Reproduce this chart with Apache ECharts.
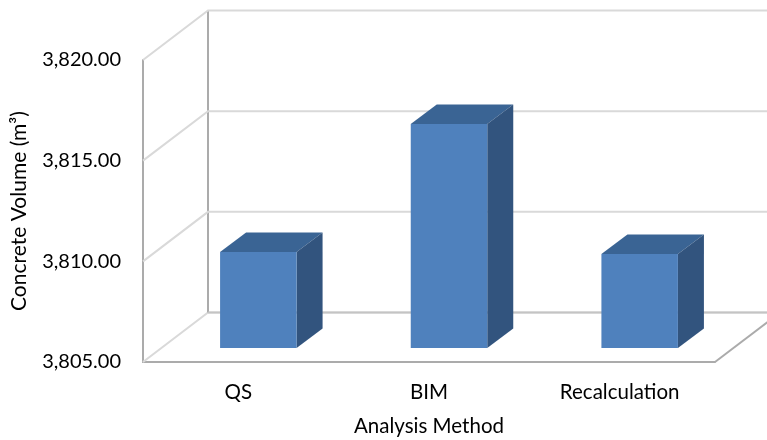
<!DOCTYPE html>
<html><head><meta charset="utf-8">
<style>html,body{margin:0;padding:0;background:#fff}#c{width:767px;height:440px}</style>
<script src="https://cdn.jsdelivr.net/npm/echarts@6/dist/echarts.min.js"></script>
</head><body><div id="c"></div>
<script>
const categories = ['QS', 'BIM', 'Recalculation'];
const volumes = [3809.77, 3816.13, 3809.67];
const yTicks = [3805, 3810, 3815, 3820];
const yMin = 3805, yMax = 3820, yStep = 5;

const wallDepth = [65, -49.5];
const barShift = [20, -14];
const barDepth = [26, -19.5];
const barW = 76.5;
const FF = 'Lato, Carlito, sans-serif';

const chart = echarts.init(document.getElementById('c'), null, {renderer: 'canvas'});
chart.setOption({
  animation: false,
  backgroundColor: '#fff',
  grid: {left: 143, right: 52, top: 60, bottom: 78, containLabel: false, outerBoundsMode: 'none'},
  xAxis: {
    type: 'category', data: categories,
    axisTick: {show: false},
    axisLine: {lineStyle: {color: '#ababab', width: 2}},
    axisLabel: {color: '#000', fontFamily: FF, fontSize: 20.5, margin: 20},
    name: 'Analysis Method', nameLocation: 'middle', nameGap: 54,
    nameTextStyle: {color: '#000', fontFamily: FF, fontSize: 20.5}
  },
  yAxis: {
    type: 'value', min: yMin, max: yMax, interval: yStep,
    axisLine: {show: true, lineStyle: {color: '#ababab', width: 2}},
    axisTick: {show: false},
    splitLine: {show: false},
    axisLabel: {color: '#000', fontFamily: FF, fontSize: 20, margin: 22, padding: [2, 0, 0, 0],
      formatter: v => v.toLocaleString('en-US', {minimumFractionDigits: 2, maximumFractionDigits: 2})},
    name: 'Concrete Volume (m³)', nameLocation: 'middle', nameGap: 113,
    nameTextStyle: {color: '#000', fontFamily: FF, fontSize: 21}
  },
  series: [
    {
      type: 'custom', z: 1, silent: true,
      data: yTicks.map(t => [0, t]),
      encode: {x: 0, y: 1},
      renderItem(params, api) {
        const cs = params.coordSys;
        const p = api.coord([0, api.value(1)]);
        const x0 = cs.x, x1 = cs.x + cs.width, y = p[1];
        const bx = x0 + wallDepth[0], by = y + wallDepth[1];
        const kids = [{
          type: 'polyline',
          shape: {points: [[x0, y], [bx, by], [x1 + wallDepth[0], by]]},
          style: {fill: null, stroke: '#d9d9d9', lineWidth: 2}
        }];
        if (params.dataIndex === 0) {
          kids.push({
            type: 'line',
            shape: {x1: bx, y1: by, x2: bx, y2: by - cs.height},
            style: {stroke: '#ababab', lineWidth: 2}
          }, {
            type: 'line',
            shape: {x1: x1, y1: y, x2: x1 + wallDepth[0], y2: by},
            style: {stroke: '#ababab', lineWidth: 2}
          }, {
            type: 'line',
            shape: {x1: bx, y1: by, x2: x1 + wallDepth[0], y2: by},
            style: {stroke: '#c4c4c4', lineWidth: 2}
          });
        }
        return {type: 'group', children: kids};
      }
    },
    {
      type: 'custom', z: 3, silent: true,
      data: volumes.map((v, i) => [i, v]),
      encode: {x: 0, y: 1},
      renderItem(params, api) {
        const top = api.coord([api.value(0), api.value(1)]);
        const base = api.coord([api.value(0), yMin]);
        const l = top[0] + barShift[0] - barW / 2, r = l + barW;
        const t = top[1] + barShift[1], b = base[1] + barShift[1];
        const dx = barDepth[0], dy = barDepth[1];
        return {type: 'group', children: [
          {type: 'polygon', shape: {points: [[l, t], [r, t], [r + dx, t + dy], [l + dx, t + dy]]},
            style: {fill: '#3a6494'}},
          {type: 'polygon', shape: {points: [[r, t], [r + dx, t + dy], [r + dx, b + dy], [r, b]]},
            style: {fill: '#32547e'}},
          {type: 'rect', shape: {x: l, y: t, width: barW, height: b - t},
            style: {fill: '#4f81bd'}}
        ]};
      }
    }
  ]
});
</script></body></html>
